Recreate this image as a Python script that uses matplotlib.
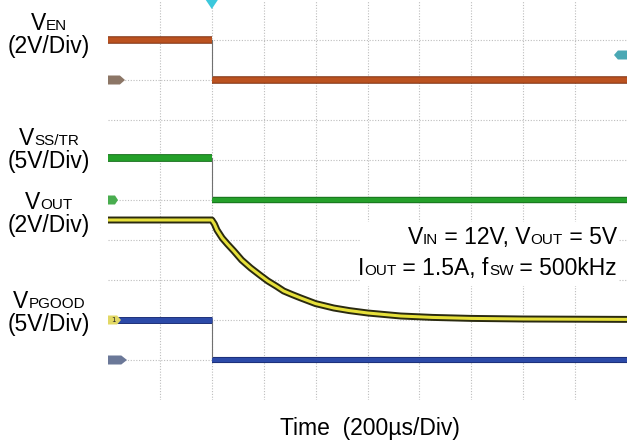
import matplotlib
matplotlib.use("Agg")
import matplotlib.pyplot as plt
from matplotlib.patches import Polygon, Rectangle
from matplotlib.offsetbox import TextArea, HPacker, VPacker, AnnotationBbox

# ---------------- data (time in microseconds, values in volts) ----------------
time_window = [-400, 1600]          # 10 divisions of 200 us
step_time = [-400, 0, 1600]         # start, switching edge, end

en_levels = [2.0, 0.0]              # V_EN before / after edge (2V/div)
ss_levels = [5.3, 0.0]              # V_SS/TR before / after edge (5V/div)
pg_levels = [5.0, 0.0]              # V_PGOOD before / after edge (5V/div)
vout_pre = 5.0                      # V_OUT before edge (2V/div)

vout_time = [0, 10, 20, 40, 60, 85, 115, 150, 185, 216, 250, 277, 310, 343,
             400, 470, 530, 601, 728, 850, 1000, 1200, 1400, 1600]
vout_volts = [5.0, 4.8, 4.5, 4.1, 3.8, 3.45, 3.0, 2.6, 2.25, 1.95, 1.68, 1.45,
              1.27, 1.1, 0.82, 0.6, 0.47, 0.35, 0.2, 0.13, 0.08, 0.05, 0.04, 0.03]

# channel ground positions (division from bottom) and scales (V/div)
ch_offset = {"EN": 8, "SS": 5, "OUT": 2, "PG": 1}
ch_scale = {"EN": 2, "SS": 5, "OUT": 2, "PG": 5}

FONT = "Liberation Sans"
W, H = 627, 445
fig = plt.figure(figsize=(W / 100, H / 100), dpi=100)
fig.patch.set_facecolor("white")
ax = fig.add_axes([108 / W, 1 - 400 / H, 519 / W, 400 / H])
ax.set_xlim(*time_window)
ax.set_ylim(0, 10)
ax.axis("off")

# grid
gcol = "#bdbdbd"
for gx in range(-200, 1600, 200):
    ax.axvline(gx, color=gcol, lw=0.8, ls=(0, (1, 1.5)), zorder=1)
for gy in range(1, 10):
    ax.axhline(gy, color=gcol, lw=0.8, ls=(0, (1, 1.5)), zorder=1)


def to_div(v, ch):
    return ch_offset[ch] + v / ch_scale[ch]


def step_trace(levels, ch, color, edge, lw_pre, lw_post):
    t0, t1, t2 = step_time
    y0 = to_div(levels[0], ch)
    y1 = to_div(levels[1], ch)
    ax.plot([t0, t1], [y0, y0], color=edge, lw=lw_pre + 0.6, solid_capstyle="butt", zorder=3)
    ax.plot([t0, t1], [y0, y0], color=color, lw=lw_pre - 0.8, solid_capstyle="butt", zorder=4)
    ax.plot([t1, t2], [y1, y1], color=edge, lw=lw_post + 0.6, solid_capstyle="butt", zorder=3)
    ax.plot([t1, t2], [y1, y1], color=color, lw=lw_post - 0.8, solid_capstyle="butt", zorder=4)
    ax.plot([t1, t1], [y0, y1], color="#707070", lw=0.8, zorder=3)


step_trace(en_levels, "EN", "#bb5220", "#7a2c0c", 4.8, 4.8)
step_trace(ss_levels, "SS", "#24a02a", "#17701c", 5.0, 4.0)
step_trace(pg_levels, "PG", "#2c4aa8", "#1c2f78", 4.4, 3.8)

# V_OUT trace
vt = [step_time[0]] + vout_time
vv = [vout_pre] + vout_volts
vy = [to_div(v, "OUT") for v in vv]
ax.plot(vt, vy, color="#2a2a10", lw=5.0, solid_capstyle="butt", zorder=5)
ax.plot(vt, vy, color="#e6e03a", lw=2.2, solid_capstyle="butt", zorder=6)

# ground markers
pxu = 2000 / 519.0   # us per pixel
pxd = 10 / 400.0     # div per pixel


def gmarker(ch, wpx, face, label=None):
    y = ch_offset[ch]
    x0 = time_window[0]
    w = wpx * pxu
    h = 4.5 * pxd
    pts = [(x0, y - h), (x0 + w * 0.7, y - h), (x0 + w, y), (x0 + w * 0.7, y + h), (x0, y + h)]
    ax.add_patch(Polygon(pts, closed=True, facecolor=face, edgecolor="none", zorder=7, clip_on=False))
    if label:
        ax.text(x0 + w * 0.4, y, label, fontsize=5, ha="center", va="center", color="#222222", zorder=8)


gmarker("EN", 17, "#8c7666")
gmarker("SS", 10, "#49ad4f")
gmarker("OUT", 13, "#e2d864", "1")
gmarker("PG", 19, "#6b7898")

# trigger marker (top) and trigger level marker (right)
tw = 6 * pxu
ax.add_patch(Polygon([(-tw, 10), (tw, 10), (0, 10 - 9 * pxd)], closed=True,
                     facecolor="#3cc8dc", edgecolor="none", zorder=8, clip_on=False))
ry = (399 - 54) / 40.0
rw = 13 * pxu
rh = 4.5 * pxd
x1 = time_window[1]
ax.add_patch(Polygon([(x1, ry - rh), (x1 - rw * 0.7, ry - rh), (x1 - rw, ry),
                      (x1 - rw * 0.7, ry + rh), (x1, ry + rh)], closed=True,
                     facecolor="#4aa8b4", edgecolor="none", zorder=8, clip_on=False))

# ---------------- text ----------------
MAIN = 16.5
SUB = 11


def rich(parts):
    boxes = [TextArea(t, textprops=dict(fontsize=(SUB if s else MAIN), family=FONT, color="black"))
             for t, s in parts]
    return HPacker(children=boxes, align="baseline", pad=0, sep=0)


def left_label(parts, scale_txt, ycenter_top):
    box = VPacker(children=[rich(parts), rich([(scale_txt, 0)])], align="center", pad=0, sep=0)
    ab = AnnotationBbox(box, (49 / W, 1 - ycenter_top / H), xycoords="figure fraction",
                        frameon=False, box_alignment=(0.5, 0.5), annotation_clip=False)
    fig.add_artist(ab)


left_label([("V", 0), ("EN", 1)], "(2V/Div)", 35)
left_label([("V", 0), ("SS/TR", 1)], "(5V/Div)", 150)
left_label([("V", 0), ("OUT", 1)], "(2V/Div)", 214)
left_label([("V", 0), ("PGOOD", 1)], "(5V/Div)", 313)

# white box behind conditions text
fig.add_artist(Rectangle((360 / W, 1 - 286 / H), 258 / W, 64 / H, transform=fig.transFigure,
                         facecolor="white", edgecolor="none", zorder=2))
cond = VPacker(children=[
    rich([("V", 0), ("IN", 1), (" = 12V, V", 0), ("OUT", 1), (" = 5V", 0)]),
    rich([("I", 0), ("OUT", 1), (" = 1.5A, f", 0), ("SW", 1), (" = 500kHz", 0)]),
], align="right", pad=0, sep=6)
ab = AnnotationBbox(cond, (617 / W, 1 - 253 / H), xycoords="figure fraction", frameon=False,
                    box_alignment=(1.0, 0.5), annotation_clip=False)
ab.set_zorder(10)
fig.add_artist(ab)

fig.text(370 / W, 1 - 428 / H, "Time  (200\u00b5s/Div)", fontsize=MAIN, family=FONT,
         ha="center", va="center")

fig.savefig("out.png", dpi=100, facecolor="white")
